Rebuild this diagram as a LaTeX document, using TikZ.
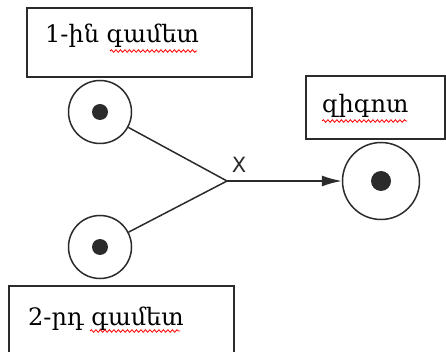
\documentclass[tikz,border=0pt]{standalone}
\usepackage{fontspec}
\newfontfamily\armfont{DejaVu Serif}
\newfontfamily\xfont{DejaVu Sans}
\usetikzlibrary{arrows.meta,positioning,decorations.pathmorphing}
\definecolor{ink}{HTML}{2B2B2B}
\tikzset{
  cell/.style={circle, draw=ink, line width=1.5pt, minimum size=63pt, inner sep=0pt,
    path picture={\fill[ink] (path picture bounding box.center) circle (8pt);}},
  tag/.style={draw=ink, line width=1.8pt, inner sep=0pt},
  word/.style={anchor=base west, inner sep=0pt, font=\armfont\fontsize{24}{28}\selectfont, text=black},
  spell/.style={red, line width=0.8pt, decorate, decoration={snake, amplitude=1.3pt, segment length=4.5pt}}
}
\begin{document}
\begin{tikzpicture}[x=1pt, y=-1pt]
        \useasboundingbox (0,0) rectangle (446,352);
        \clip (0,0) rectangle (446,352);
        %boxes
        \node[tag, minimum width=225pt, minimum height=69pt] (b1) at (139.5,42.5) {};
        \node[tag, minimum width=139pt, minimum height=63pt] (b3) at (375.5,107.5) {};
        \node[tag, minimum width=225pt, minimum height=90pt] (b2) at (121.5,331) {};
        \node[word] (t1) at (45,43) {1-ին գամետ};
        \node[word] (t3) at (322,113) {զիգոտ};
        \node[word] (t2) at (28,325) {2-րդ գամետ};
        \draw[spell] (110,51) -- (197,51);
        \draw[spell] (322,121) -- (407,121);
        \draw[spell] (90,331) -- (180,331);
        %cells
        \node[cell] (g1) at (100,112) {};
        \node[cell] (g2) at (100,247) {};
        \node[cell, minimum size=77pt, path picture={\fill[ink] (path picture bounding box.center) circle (10pt);}] (z) at (381,181) {};
        \coordinate (j) at (227,181);
        \node[font=\xfont\fontsize{21}{24}\selectfont, text=ink, inner sep=0pt] (x) at (239,165) {X};
        %edges
        \draw[ink, line width=1.5pt] (g1) -- (j);
        \draw[ink, line width=1.5pt] (g2) -- (j);
        \draw[ink, line width=1.5pt, -{Latex[length=20pt, width=11pt]}] (j) -- (z);
      \end{tikzpicture}
\end{document}
